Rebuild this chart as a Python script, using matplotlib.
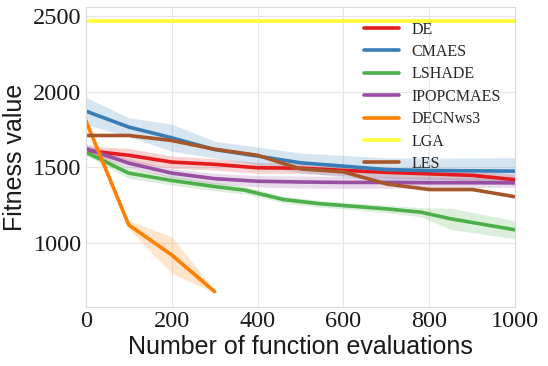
import numpy as np
import matplotlib
matplotlib.use('Agg')
import matplotlib.pyplot as plt
import seaborn as sns

# evaluations at which each run was logged
evals = [0, 100, 200, 300, 400, 500, 600, 700, 800, 900, 1000]
evals_lshade = [0, 100, 200, 300, 370, 460, 545, 600, 700, 780, 850, 1000]
evals_decn = [0, 100, 200, 300]

de_mean = [1612, 1580, 1535, 1520, 1497, 1495, 1480, 1467, 1457, 1447, 1418]
de_std = [30, 45, 40, 38, 36, 35, 35, 35, 35, 35, 35]

cmaes_mean = [1873, 1767, 1696, 1618, 1575, 1530, 1508, 1485, 1479, 1477, 1475]
cmaes_std = [90, 62, 90, 55, 60, 65, 71, 78, 82, 85, 89]

lshade_mean = [1601, 1462, 1413, 1373, 1349, 1287, 1259, 1247, 1225, 1203, 1159, 1086]
lshade_std = [20, 35, 30, 28, 25, 22, 22, 22, 25, 30, 70, 60]

ipop_mean = [1625, 1528, 1462, 1425, 1408, 1403, 1400, 1400, 1398, 1398, 1398]
ipop_std = [35, 30, 30, 35, 38, 40, 40, 38, 35, 32, 30]

decn_mean = [1811, 1119, 920, 677]
decn_std = [0, 28, 120, 10]

lga_mean = [2470] * len(evals)

les_mean = [1711, 1711, 1678, 1620, 1580, 1490, 1470, 1390, 1353, 1353, 1305]

colors = sns.color_palette('Set1', 7)

sns.set_style('whitegrid', {'grid.color': '#e6e6e6', 'axes.edgecolor': '#d9d9d9'})

fig = plt.figure(figsize=(5.48, 3.66), dpi=100)
ax = fig.add_axes([0.1564, 0.162, 0.784, 0.818])

series = [
    ('DE', evals, de_mean, de_std),
    ('CMAES', evals, cmaes_mean, cmaes_std),
    ('LSHADE', evals_lshade, lshade_mean, lshade_std),
    ('IPOPCMAES', evals, ipop_mean, ipop_std),
    ('DECNws3', evals_decn, decn_mean, decn_std),
    ('LGA', evals, lga_mean, None),
    ('LES', evals, les_mean, None),
]

for i, (name, x, m, s) in enumerate(series):
    x = np.array(x)
    m = np.array(m, dtype=float)
    ax.plot(x, m, color=colors[i], lw=2.6, label=name)
    if s is not None:
        s = np.array(s, dtype=float)
        ax.fill_between(x, m - s, m + s, color=colors[i], alpha=0.2, lw=0)

ax.set_xlim(0, 1000)
ax.set_xticks([0, 200, 400, 600, 800, 1000])
ax.set_yticks([1000, 1500, 2000, 2500])
for lab in ax.get_xticklabels() + ax.get_yticklabels():
    lab.set_fontfamily('Liberation Serif')
    lab.set_fontsize(17.5)
    lab.set_color('#1a1a1a')
ax.tick_params(axis='both', length=0, pad=3)

ax.set_xlabel('Number of function evaluations', fontsize=18,
              fontfamily='Liberation Sans', color='#1a1a1a', labelpad=2)
ax.set_ylabel('Fitness value', fontsize=18,
              fontfamily='Liberation Sans', color='#1a1a1a', labelpad=4)

ax.legend(loc='upper right', frameon=False, prop={'family': 'Liberation Serif', 'size': 11.5},
          handlelength=2.2, labelspacing=0.4)

fig.savefig('out.png', dpi=100)
